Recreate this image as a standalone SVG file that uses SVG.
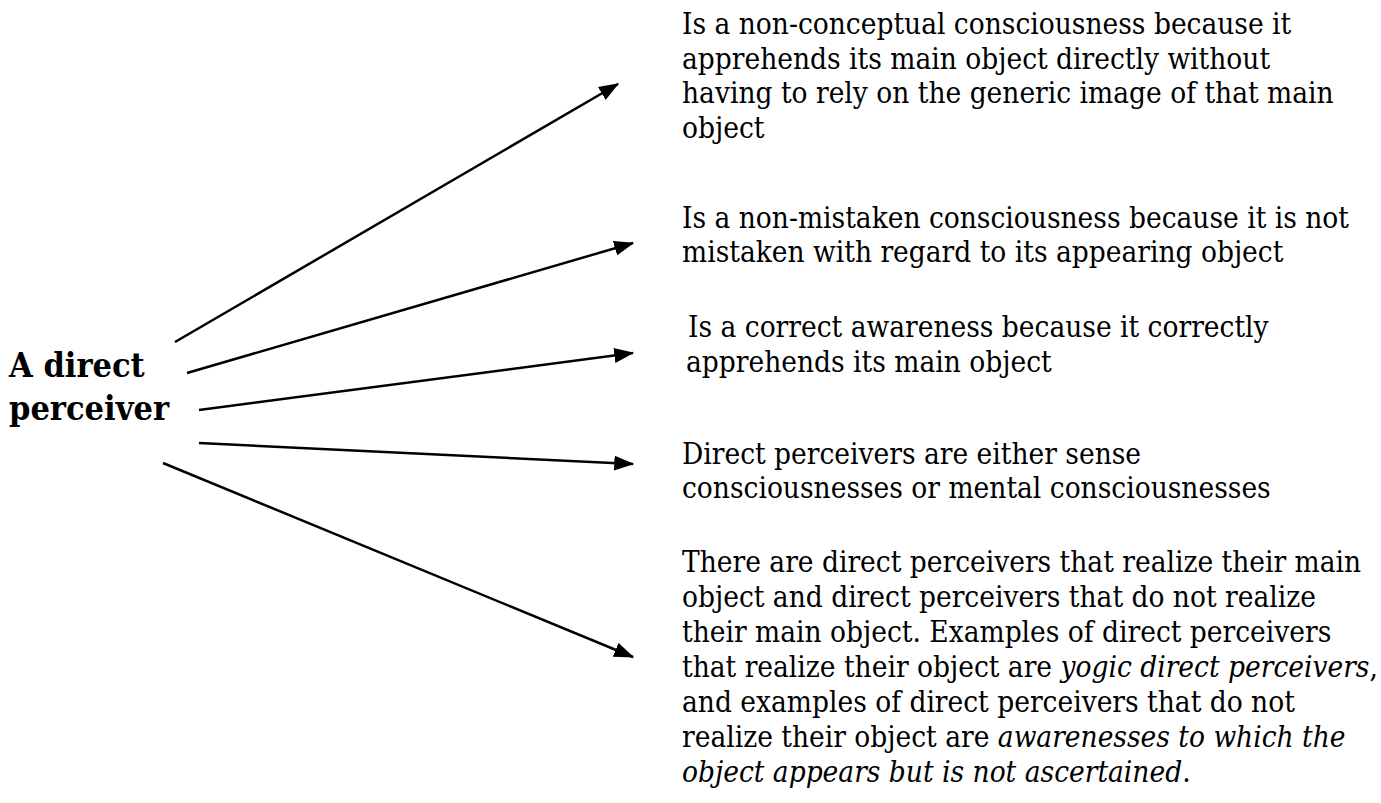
<svg xmlns="http://www.w3.org/2000/svg" width="1381" height="803" viewBox="0 0 1381 803">
  <style>
    .body { font-family: "DejaVu Serif Condensed", "Liberation Serif", serif; font-size: 29.5px; fill: #000; }
    .title { font-family: "DejaVu Serif Condensed", "Liberation Serif", serif; font-size: 34px; font-weight: bold; fill: #000; }
    .edge { stroke: #000; stroke-width: 2.5; fill: none; marker-end: url(#arrow); }
  </style>
  <defs>
    <marker id="arrow" markerWidth="8" markerHeight="6" refX="7.5" refY="3" orient="auto" markerUnits="strokeWidth">
      <path d="M0,0 L8,3 L0,6 Z" fill="#000"/>
    </marker>
  </defs>
  <rect width="1381" height="803" fill="#fff"/>

  <g id="connectors">
    <line class="edge" x1="175" y1="342" x2="618" y2="84"/>
    <line class="edge" x1="187" y1="373" x2="633" y2="243"/>
    <line class="edge" x1="199" y1="410" x2="633" y2="353"/>
    <line class="edge" x1="199" y1="443" x2="633" y2="464"/>
    <line class="edge" x1="163" y1="463" x2="633" y2="657"/>
  </g>

  <g id="subject">
    <text class="title" x="9" y="377">A direct</text>
    <text class="title" x="9" y="420">perceiver</text>
  </g>

  <g id="non-conceptual">
    <text class="body" x="682" y="34">Is a non-conceptual consciousness because it</text>
    <text class="body" x="682" y="68.5">apprehends its main object directly without</text>
    <text class="body" x="682" y="103">having to rely on the generic image of that main</text>
    <text class="body" x="682" y="137.5">object</text>
  </g>

  <g id="non-mistaken">
    <text class="body" x="682" y="228">Is a non-mistaken consciousness because it is not</text>
    <text class="body" x="682" y="262">mistaken with regard to its appearing object</text>
  </g>

  <g id="correct">
    <text class="body" x="688" y="337">Is a correct awareness because it correctly</text>
    <text class="body" x="686" y="372">apprehends its main object</text>
  </g>

  <g id="kinds">
    <text class="body" x="682" y="464">Direct perceivers are either sense</text>
    <text class="body" x="682" y="498">consciousnesses or mental consciousnesses</text>
  </g>

  <g id="realizing">
    <text class="body" x="682" y="572">There are direct perceivers that realize their main</text>
    <text class="body" x="682" y="607">object and direct perceivers that do not realize</text>
    <text class="body" x="682" y="642">their main object. Examples of direct perceivers</text>
    <text class="body" x="682" y="677">that realize their object are <tspan font-style="italic">yogic direct perceivers</tspan>,</text>
    <text class="body" x="682" y="712">and examples of direct perceivers that do not</text>
    <text class="body" x="682" y="747">realize their object are <tspan font-style="italic">awarenesses to which the</tspan></text>
    <text class="body" x="682" y="782"><tspan font-style="italic">object appears but is not ascertained</tspan>.</text>
  </g>
</svg>
